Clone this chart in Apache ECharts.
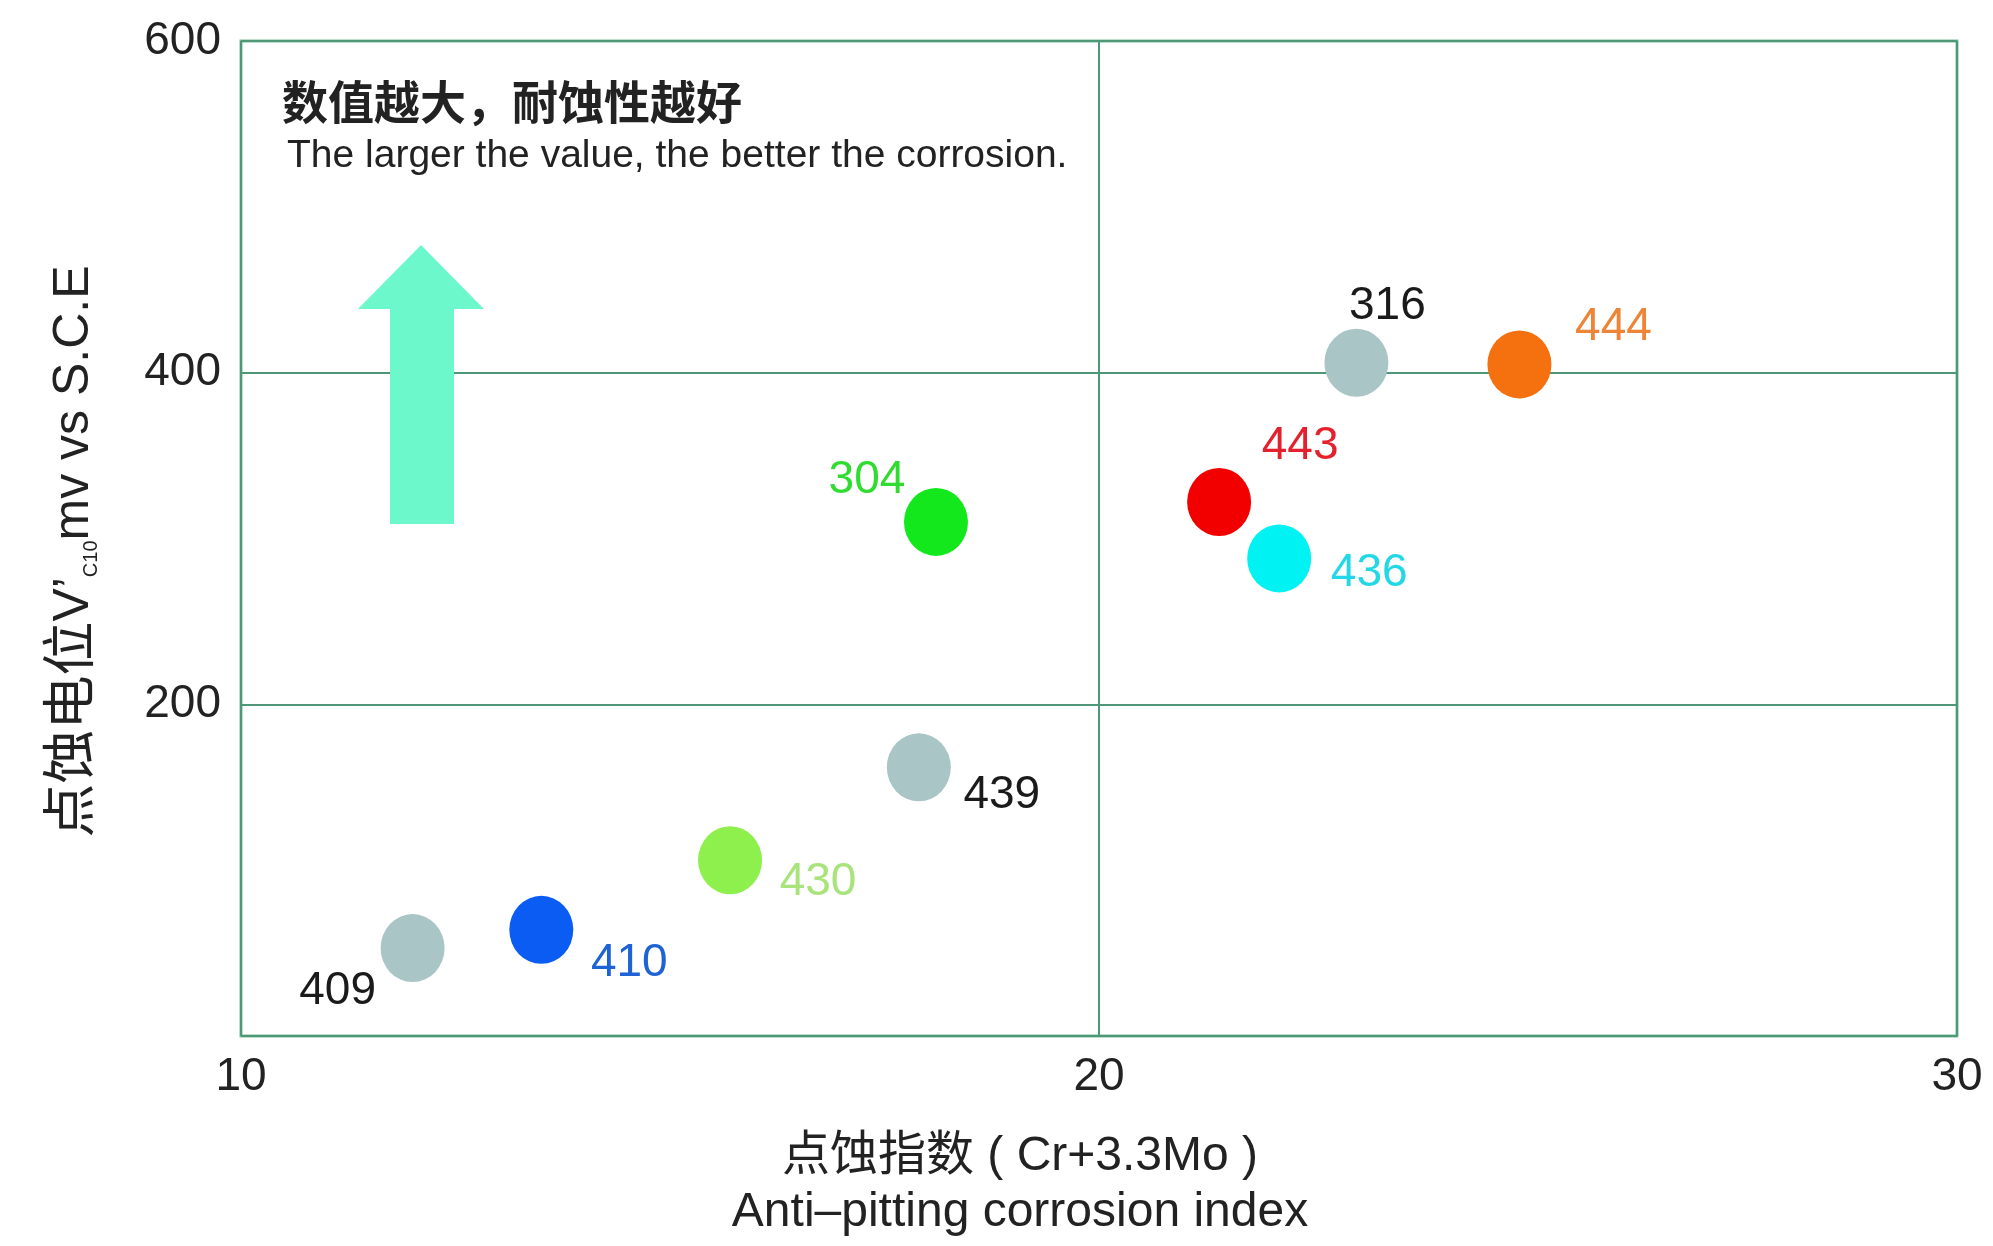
<!DOCTYPE html>
<html>
<head>
<meta charset="utf-8">
<script src="https://cdn.jsdelivr.net/npm/echarts@6/dist/echarts.min.js"></script>
<style>
html,body{margin:0;padding:0;background:#fff;}
#main{width:1993px;height:1246px;}
</style>
</head>
<body>
<div id="main"></div>
<script>
// ---- data ----
var grades = ['409', '410', '430', '439', '304', '443', '436', '316', '444'];
var pitIndex = [12.0, 13.5, 15.7, 17.9, 18.1, 21.4, 22.1, 23.0, 24.9];
var pitPotential = [53, 64, 106, 162, 310, 322, 288, 406, 405];
var xTicks = [10, 20, 30];
var yTicks = [0, 200, 400, 600];

// ---- styles ----
var dotColors = ['#A9C5C6', '#0A5CF2', '#8EF04C', '#A9C5C6', '#12E81C', '#F20000', '#00F2F2', '#A9C5C6', '#F5700F'];
var labelColors = ['#1a1a1a', '#1F62D6', '#A9E37C', '#1a1a1a', '#2FDC2F', '#E3202B', '#22D8E6', '#1a1a1a', '#EE8436'];
var labelOffsets = [[-75, 43], [88, 33], [88, 22], [83, 28], [-69, -42], [81, -56], [90, 15], [31, -56], [94, -37]];

var FONT = "'Liberation Sans', 'Noto Sans CJK SC', sans-serif";

var chart = echarts.init(document.getElementById('main'));

var points = grades.map(function (g, i) {
  return {
    name: g,
    value: [pitIndex[i], pitPotential[i]],
    itemStyle: { color: dotColors[i], opacity: 1 },
    label: {
      show: true,
      position: 'inside',
      offset: labelOffsets[i],
      formatter: g,
      color: labelColors[i],
      fontSize: 46,
      fontFamily: FONT
    }
  };
});

var option = {
  backgroundColor: '#ffffff',
  animation: false,
  grid: {
    left: 241, right: 36, top: 41, bottom: 201,
    show: true,
    borderColor: '#79C09B',
    borderWidth: 3,
    backgroundColor: 'transparent'
  },
  xAxis: {
    type: 'value',
    min: xTicks[0], max: xTicks[xTicks.length - 1], interval: xTicks[1] - xTicks[0],
    axisLine: { show: false },
    axisTick: { show: false },
    splitLine: { show: true, lineStyle: { color: '#4E9877', width: 2 } },
    axisLabel: { color: '#222', fontSize: 46, fontFamily: FONT, margin: 18 },
    name: '点蚀指数 ( Cr+3.3Mo )\nAnti\u2013pitting corrosion index',
    nameLocation: 'middle',
    nameGap: 93,
    nameTextStyle: { color: '#222', fontSize: 48, fontFamily: FONT, lineHeight: 56, padding: [0, 158, 0, 0] }
  },
  yAxis: {
    type: 'value',
    min: yTicks[0], max: yTicks[yTicks.length - 1], interval: yTicks[1] - yTicks[0],
    axisLine: { show: false },
    axisTick: { show: false },
    splitLine: { show: true, lineStyle: { color: '#4E9877', width: 2 } },
    axisLabel: {
      color: '#222', fontSize: 46, fontFamily: FONT, margin: 20,
      formatter: function (v) { return v === 0 ? '' : String(v); }
    },
    name: '{c|点蚀电位}{a|V\u2019}{s|C10}{a|mv vs S.C.E}',
    nameLocation: 'middle',
    nameGap: 140,
    nameTextStyle: {
      padding: [0, 26, 0, 0],
      rich: {
        c: { fontSize: 54, color: '#222', fontFamily: FONT },
        a: { fontSize: 50, color: '#222', fontFamily: FONT },
        s: { fontSize: 20, color: '#222', fontFamily: FONT, verticalAlign: 'bottom', padding: [18, 0, 0, 0] }
      }
    }
  },
  graphic: [
    {
      type: 'polygon',
      z: 1,
      shape: { points: [[421, 245], [484, 309], [454, 309], [454, 524], [390, 524], [390, 309], [358, 309]] },
      style: { fill: '#6CF8CA' }
    },
    {
      type: 'text',
      left: 282, top: 79,
      style: { text: '数值越大，耐蚀性越好', font: "bold 46px 'Noto Sans CJK SC', sans-serif", fill: '#222' }
    },
    {
      type: 'text',
      left: 287, top: 137,
      style: { text: 'The larger the value, the better the corrosion.', font: "39px 'Liberation Sans', sans-serif", fill: '#222' }
    }
  ],
  series: [{
    type: 'scatter',
    symbol: 'circle',
    symbolSize: [64, 68],
    z: 5,
    data: points
  }]
};
chart.setOption(option);
</script>
</body>
</html>
